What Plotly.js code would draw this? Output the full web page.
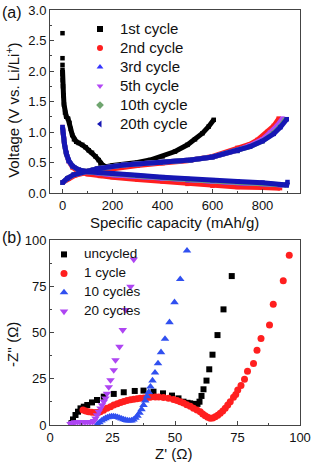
<!DOCTYPE html>
<html><head><meta charset="utf-8">
<script src="https://cdn.plot.ly/plotly-3.0.1.min.js"></script>
<style>html,body{margin:0;padding:0;background:#fff}#c{width:313px;height:465px}</style>
</head><body><div id="c"></div>
<script>
// ---------- Panel (a): charge/discharge profiles ----------
// 1st cycle: isolated initial points (null = break), then discharge
const c1dCap = [0, null, 0, null, 0, null, 0, 0, 1, 2, 4, 6, 10, 15, 22, 28, 33, 39, 46, 55, 65, 79, 92, 105, 118, 132, 145, 152, 162, 172, 185];
const c1dV   = [2.62, null, 2.21, null, 2.10, null, 2.02, 1.95, 1.85, 1.75, 1.60, 1.45, 1.32, 1.25, 1.22, 1.15, 1.05, 0.95, 0.88, 0.84, 0.82, 0.79, 0.75, 0.70, 0.66, 0.60, 0.54, 0.49, 0.45, 0.43, 0.41];
const c1cCap = [0, 25, 50, 100, 150, 200, 250, 300, 350, 400, 450, 500, 530, 560, 585, 605];
const c1cV   = [0.17, 0.25, 0.30, 0.36, 0.41, 0.45, 0.47, 0.50, 0.54, 0.60, 0.68, 0.79, 0.88, 0.98, 1.09, 1.20];
// 2nd cycle
const c2dCap = [0, 3, 8, 15, 25, 40, 60, 100, 150, 200, 300, 400, 500, 600, 700, 800, 870];
const c2dV   = [1.08, 0.95, 0.80, 0.65, 0.52, 0.42, 0.36, 0.31, 0.28, 0.26, 0.22, 0.19, 0.15, 0.12, 0.10, 0.09, 0.08];
const c2cCap = [0, 25, 50, 100, 200, 300, 400, 500, 600, 700, 750, 780, 820, 845, 865];
const c2cV   = [0.17, 0.24, 0.29, 0.34, 0.40, 0.45, 0.49, 0.53, 0.60, 0.74, 0.80, 0.87, 1.00, 1.10, 1.22];
// 3rd cycle
const c3dCap = [0, 3, 8, 15, 25, 40, 65, 100, 150, 200, 300, 400, 500, 600, 700, 800, 880];
const c3dV   = [1.08, 0.95, 0.80, 0.65, 0.53, 0.44, 0.38, 0.35, 0.32, 0.30, 0.27, 0.24, 0.21, 0.19, 0.17, 0.15, 0.13];
const c3cCap = [0, 20, 45, 85, 140, 245, 392, 512, 600, 700, 750, 800, 835, 860, 885];
const c3cV   = [0.17, 0.24, 0.30, 0.35, 0.40, 0.46, 0.50, 0.54, 0.59, 0.70, 0.77, 0.87, 0.98, 1.08, 1.21];
// 5th cycle
const c5dCap = [0, 3, 8, 15, 25, 40, 65, 100, 150, 200, 300, 400, 500, 600, 700, 800, 885];
const c5dV   = [1.07, 0.94, 0.79, 0.64, 0.52, 0.44, 0.38, 0.35, 0.32, 0.30, 0.27, 0.24, 0.22, 0.19, 0.17, 0.15, 0.13];
const c5cCap = [0, 20, 45, 85, 140, 245, 392, 512, 600, 700, 750, 800, 830, 858, 880];
const c5cV   = [0.17, 0.24, 0.30, 0.35, 0.40, 0.46, 0.50, 0.54, 0.59, 0.70, 0.78, 0.88, 0.99, 1.10, 1.22];
// 10th cycle
const c10dCap = [0, 3, 8, 15, 25, 40, 65, 100, 150, 200, 300, 400, 500, 600, 700, 800, 895];
const c10dV   = [1.07, 0.94, 0.79, 0.64, 0.53, 0.44, 0.38, 0.35, 0.33, 0.31, 0.28, 0.25, 0.22, 0.20, 0.18, 0.16, 0.13];
const c10cCap = [0, 20, 45, 85, 140, 245, 392, 512, 600, 700, 750, 800, 840, 868, 890];
const c10cV   = [0.17, 0.24, 0.30, 0.35, 0.40, 0.46, 0.50, 0.54, 0.59, 0.69, 0.76, 0.85, 0.97, 1.08, 1.20];
// 20th cycle
const c20dCap = [0, 3, 8, 15, 25, 40, 65, 100, 150, 200, 300, 400, 500, 600, 700, 800, 870, 897, 900];
const c20dV   = [1.08, 0.95, 0.80, 0.65, 0.53, 0.44, 0.38, 0.35, 0.33, 0.32, 0.29, 0.26, 0.23, 0.21, 0.19, 0.17, 0.14, 0.13, 0.18];
const c20cCap = [0, 20, 45, 85, 140, 245, 392, 512, 600, 700, 750, 800, 845, 872, 897];
const c20cV   = [0.17, 0.24, 0.30, 0.35, 0.40, 0.46, 0.50, 0.54, 0.59, 0.69, 0.76, 0.85, 0.97, 1.08, 1.21];

const legendA = ["1st cycle", "2nd cycle", "3rd cycle", "5th cycle", "10th cycle", "20th cycle"];

// ---------- Panel (b): Nyquist plots ----------
const uncZr = [8.6, 9.2, 10.2, 11.2, 12.2, 13.5, 14.9, 16.8, 18.8, 21.5, 25.5, 29.5, 33.9, 37.4, 41.4, 45.2, 48.8, 51.4, 53.4, 55.0, 56.1, 57.1, 58.1, 59.0, 59.8, 60.6, 61.4, 62.6, 63.7, 65.0, 67.0, 69.4, 72.7];
const uncZi = [1.0, 3.0, 5.4, 7.2, 9.0, 9.9, 10.8, 12.2, 13.5, 15.3, 16.8, 17.7, 18.4, 18.6, 18.0, 17.1, 15.9, 14.4, 12.6, 12.0, 11.7, 11.4, 11.2, 11.4, 12.6, 15.7, 19.3, 24.0, 30.1, 38.0, 48.6, 62.5, 80.5];
const c1Zr = [13.2, 14.3, 15.4, 16.7, 18.1, 19.2, 20.1, 21.4, 22.8, 24.2, 25.5, 26.9, 28.2, 29.5, 30.8, 32.2, 33.5, 34.8, 36.1, 37.5, 38.8, 40.1, 42.1, 43.5, 45.4, 47.4, 49.4, 50.8, 52.1, 53.4, 54.7, 56.1, 57.4, 58.8, 60.1, 61.1, 62.1, 63.1, 64.1, 65.1, 66.1, 67.1, 68.1, 69.1, 70.1, 71.1, 72.1, 73.4, 74.3, 75.1, 76.4, 77.8, 79.0, 81.4, 82.8, 84.4, 87.8, 89.3, 93.3, 95.7];
const c1Zi = [8.1, 7.6, 7.2, 6.9, 6.7, 6.8, 7.2, 8.0, 9.0, 9.9, 10.8, 11.5, 12.1, 12.7, 13.2, 13.6, 13.9, 14.2, 14.4, 14.6, 14.8, 15.0, 15.2, 15.1, 14.9, 14.4, 13.8, 13.3, 12.6, 11.9, 11.0, 10.2, 9.1, 8.1, 7.1, 6.0, 5.0, 4.2, 3.6, 3.8, 4.5, 5.3, 6.3, 7.5, 9.0, 10.8, 12.6, 15.0, 16.5, 18.9, 21.4, 24.7, 29.0, 33.3, 40.4, 46.7, 54.1, 65.2, 78.0, 91.7];
const c10Zr = [19.0, 19.8, 20.6, 21.4, 22.2, 23.0, 23.8, 24.6, 25.4, 26.2, 27.0, 27.8, 28.6, 29.4, 30.2, 31.0, 31.8, 32.6, 33.4, 34.2, 35.0, 35.8, 36.6, 37.4, 38.1, 38.8, 39.5, 40.2, 41.0, 42.0, 43.2, 44.4, 46.0, 47.8, 49.8, 52.1, 54.8];
const c10Zi = [0.5, 1.4, 2.3, 3.0, 3.6, 4.1, 4.4, 4.6, 4.6, 4.5, 4.2, 3.8, 3.4, 3.0, 2.7, 2.4, 2.3, 2.4, 2.9, 3.8, 5.0, 6.6, 8.5, 10.8, 13.2, 15.5, 17.8, 20.7, 24.0, 28.3, 33.3, 39.3, 46.5, 55.5, 66.3, 78.8, 94.2];
const c20Zr = [8.2, 9.0, 10.0, 11.0, 12.0, 13.0, 14.0, 15.0, 16.0, 17.0, 17.6, 18.2, 18.8, 19.5, 20.2, 20.8, 21.5, 22.2, 22.8, 23.5, 24.2, 25.5, 26.2, 27.8, 29.1, 30.3, 32.2, 33.5];
const c20Zi = [0.6, 1.2, 1.5, 1.6, 1.6, 1.6, 1.6, 1.6, 1.6, 1.7, 2.2, 3.6, 5.4, 7.2, 9.0, 10.8, 12.6, 14.4, 17.0, 20.5, 24.3, 29.7, 35.1, 42.3, 51.4, 62.2, 74.8, 89.5];
const legendB = ["uncycled", "1 cycle", "10 cycles", "20 cycles"];

// ---------- styles ----------
const colA = ["#000000", "#ff1f1f", "#3535ff", "#b347f5", "#6fa56f", "#1616b4"];
const symA = ["square", "circle", "triangle-up", "triangle-down", "diamond", "triangle-left"];
const colB = ["#000000", "#ff1f1f", "#3050f0", "#ae45f2"];
const symB = ["square", "circle", "triangle-up", "triangle-down"];
const FONT = "Arial, 'Liberation Sans', sans-serif";

const traces = [];
function curve(x, y, color) {
  traces.push({x: x, y: y, xaxis: 'x', yaxis: 'y', mode: 'lines+markers', showlegend: false,
    line: {color: color, width: 5}, marker: {color: color, size: 4.5, symbol: 'square'},
    connectgaps: false, hoverinfo: 'skip'});
}
const seriesA = [[c1dCap, c1dV, c1cCap, c1cV], [c2dCap, c2dV, c2cCap, c2cV], [c3dCap, c3dV, c3cCap, c3cV],
                 [c5dCap, c5dV, c5cCap, c5cV], [c10dCap, c10dV, c10cCap, c10cV], [c20dCap, c20dV, c20cCap, c20cV]];
seriesA.forEach((s, i) => { curve(s[0], s[1], colA[i]); curve(s[2], s[3], colA[i]); });
legendA.forEach((n, i) => {
  traces.push({x: [null], y: [null], xaxis: 'x', yaxis: 'y', mode: 'markers', legend: 'legend',
    name: '<span style="font-size:15px">' + n + '</span>',
    marker: {color: colA[i], size: 6, symbol: symA[i]}});
});
const seriesB = [[uncZr, uncZi], [c1Zr, c1Zi], [c10Zr, c10Zi], [c20Zr, c20Zi]];
const sizeB = [6, 7, 7.5, 7.5];
seriesB.forEach((s, i) => {
  traces.push({x: s[0], y: s[1], xaxis: 'x2', yaxis: 'y2', mode: 'markers', legend: 'legend2',
    name: '<span style="font-size:13.5px">' + legendB[i] + '</span>',
    marker: {color: colB[i], size: sizeB[i], symbol: symB[i]}});
});

const axBase = {showline: true, mirror: true, linecolor: '#444', linewidth: 1, ticks: 'inside', ticklen: 4,
  tickcolor: '#444', showgrid: false, zeroline: false, tickfont: {size: 13, color: '#111', family: FONT},
  fixedrange: true};
const layout = {
  width: 313, height: 465, margin: {l: 50, r: 13, t: 10, b: 40},
  paper_bgcolor: '#fff', plot_bgcolor: '#fff', font: {family: FONT, color: '#111'},
  xaxis: Object.assign({}, axBase, {domain: [0, 1], anchor: 'y', range: [-50, 950], tickvals: [0, 200, 400, 600, 800],
    minor: {ticks: 'inside', ticklen: 2, dtick: 100, tick0: 0, tickcolor: '#444'}}),
  yaxis: Object.assign({}, axBase, {domain: [0.559, 1], anchor: 'x', range: [0, 3], dtick: 0.5, tickformat: '.1f',
    minor: {ticks: 'inside', ticklen: 2, dtick: 0.25, tickcolor: '#444'}}),
  xaxis2: Object.assign({}, axBase, {domain: [0, 1], anchor: 'y2', range: [0, 100], dtick: 25,
    minor: {ticks: 'inside', ticklen: 2, dtick: 12.5, tickcolor: '#444'}}),
  yaxis2: Object.assign({}, axBase, {domain: [0, 0.4458], anchor: 'x2', range: [0, 100], dtick: 25,
    minor: {ticks: 'inside', ticklen: 2, dtick: 12.5, tickcolor: '#444'}}),
  legend: {x: 0.12, y: 0.989, xanchor: 'left', yanchor: 'top', bgcolor: 'rgba(0,0,0,0)', borderwidth: 0,
    font: {size: 11.5, family: FONT, color: '#111'}, itemclick: false},
  legend2: {x: -0.024, y: 0.446, xanchor: 'left', yanchor: 'top', bgcolor: 'rgba(0,0,0,0)', borderwidth: 0,
    font: {size: 10.2, family: FONT, color: '#111'}, itemclick: false},
  annotations: [
    {text: '(a)', xref: 'paper', yref: 'paper', x: -0.2, y: 0.995, xanchor: 'left', yanchor: 'middle', showarrow: false, font: {size: 16}},
    {text: '(b)', xref: 'paper', yref: 'paper', x: -0.2, y: 0.453, xanchor: 'left', yanchor: 'middle', showarrow: false, font: {size: 16}},
    {text: 'Specific capacity (mAh/g)', xref: 'paper', yref: 'paper', x: 0.496, y: 0.489, xanchor: 'center', yanchor: 'middle', showarrow: false, font: {size: 15}},
    {text: 'Voltage (V vs. Li/Li<sup>+</sup>)', xref: 'paper', yref: 'paper', x: -0.148, y: 0.757, xanchor: 'center', yanchor: 'middle', textangle: -90, showarrow: false, font: {size: 15}},
    {text: "Z' (Ω)", xref: 'paper', yref: 'paper', x: 0.492, y: -0.0675, xanchor: 'center', yanchor: 'middle', showarrow: false, font: {size: 15}},
    {text: "-Z'' (Ω)", xref: 'paper', yref: 'paper', x: -0.148, y: 0.193, xanchor: 'center', yanchor: 'middle', textangle: -90, showarrow: false, font: {size: 15}}
  ]
};
Plotly.newPlot('c', traces, layout, {staticPlot: true, displayModeBar: false});
</script></body></html>
